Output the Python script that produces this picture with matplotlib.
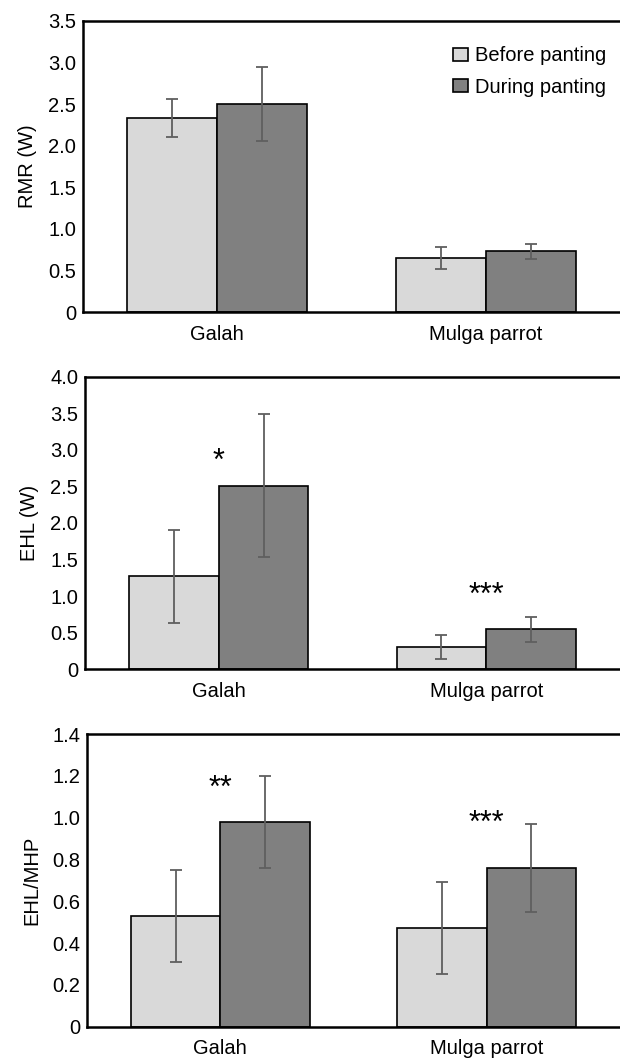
import numpy as np
import matplotlib
matplotlib.use('Agg')
import matplotlib.pyplot as plt
from matplotlib.ticker import FuncFormatter, MultipleLocator

plt.rcParams['font.family'] = ['Liberation Sans', 'DejaVu Sans']

# 데이터
species = ['Galah', 'Mulga parrot']
groups = ['Before panting', 'During panting']

rmr_before = [2.33, 0.65]
rmr_before_err = [0.23, 0.13]
rmr_during = [2.50, 0.73]
rmr_during_err = [0.44, 0.09]

ehl_before = [1.27, 0.31]
ehl_before_err = [0.64, 0.165]
ehl_during = [2.51, 0.55]
ehl_during_err = [0.98, 0.17]

ratio_before = [0.53, 0.47]
ratio_before_err = [0.22, 0.22]
ratio_during = [0.98, 0.76]
ratio_during_err = [0.22, 0.21]

# 유의성 표시 (별 중심 높이)
ehl_stars = ['*', '***']
ehl_star_y = [2.89, 1.06]
ratio_stars = ['**', '***']
ratio_star_y = [1.156, 0.99]

panels = [
    dict(ylabel='RMR (W)', ymax=3.5, step=0.5, before=rmr_before, be=rmr_before_err,
         during=rmr_during, de=rmr_during_err, stars=None, star_y=None,
         pos=[83 / 620, 1 - 312.3 / 1059, 537 / 620, 291.6 / 1059]),
    dict(ylabel='EHL (W)', ymax=4.0, step=0.5, before=ehl_before, be=ehl_before_err,
         during=ehl_during, de=ehl_during_err, stars=ehl_stars, star_y=ehl_star_y,
         pos=[85 / 620, 1 - 669.3 / 1059, 535 / 620, 292.6 / 1059]),
    dict(ylabel='EHL/MHP', ymax=1.4, step=0.2, before=ratio_before, be=ratio_before_err,
         during=ratio_during, de=ratio_during_err, stars=ratio_stars, star_y=ratio_star_y,
         pos=[87 / 620, 1 - 1026.7 / 1059, 533 / 620, 292.7 / 1059]),
]

light = '#d9d9d9'
dark = '#808080'
err_col = '#5f5f5f'
fs = 14.5
w = 0.335
x = np.arange(len(species))

fig = plt.figure(figsize=(6.2, 10.59), dpi=100)

for i, p in enumerate(panels):
    ax = fig.add_axes(p['pos'])
    ax.bar(x - w / 2, p['before'], w, color=light, edgecolor='black', linewidth=1.2,
           label=groups[0], zorder=2)
    ax.bar(x + w / 2, p['during'], w, color=dark, edgecolor='black', linewidth=1.2,
           label=groups[1], zorder=2)
    ax.errorbar(x - w / 2, p['before'], yerr=p['be'], fmt='none', ecolor=err_col,
                elinewidth=1.3, capsize=4, capthick=1.3, zorder=3)
    ax.errorbar(x + w / 2, p['during'], yerr=p['de'], fmt='none', ecolor=err_col,
                elinewidth=1.3, capsize=4, capthick=1.3, zorder=3)

    if p['stars']:
        for xi, s, yv in zip(x, p['stars'], p['star_y']):
            ax.annotate(s, (xi, yv), xytext=(0, -8.8), textcoords='offset points',
                        ha='center', va='baseline', fontsize=22)

    ax.set_xlim(-0.5, 1.5)
    ax.set_ylim(0, p['ymax'])
    ax.yaxis.set_major_locator(MultipleLocator(p['step']))
    ax.yaxis.set_major_formatter(FuncFormatter(lambda v, pos: '0' if abs(v) < 1e-9 else f'{v:.1f}'))
    ax.set_xticks(x)
    ax.set_xticklabels(species)
    ax.tick_params(axis='both', length=0, labelsize=fs)
    ax.tick_params(axis='x', pad=9)
    ax.tick_params(axis='y', pad=5)
    ax.set_ylabel(p['ylabel'], fontsize=fs, labelpad=8)
    ax.spines['right'].set_visible(False)
    for sp in ['top', 'left', 'bottom']:
        ax.spines[sp].set_linewidth(1.8)

    if i == 0:
        ax.legend(loc='upper right', frameon=False, fontsize=fs, handlelength=0.75,
                  handleheight=0.6, handletextpad=0.35, labelspacing=0.6,
                  borderaxespad=0.3, bbox_to_anchor=(1.0, 0.96))

plt.savefig('out.png', dpi=100)
